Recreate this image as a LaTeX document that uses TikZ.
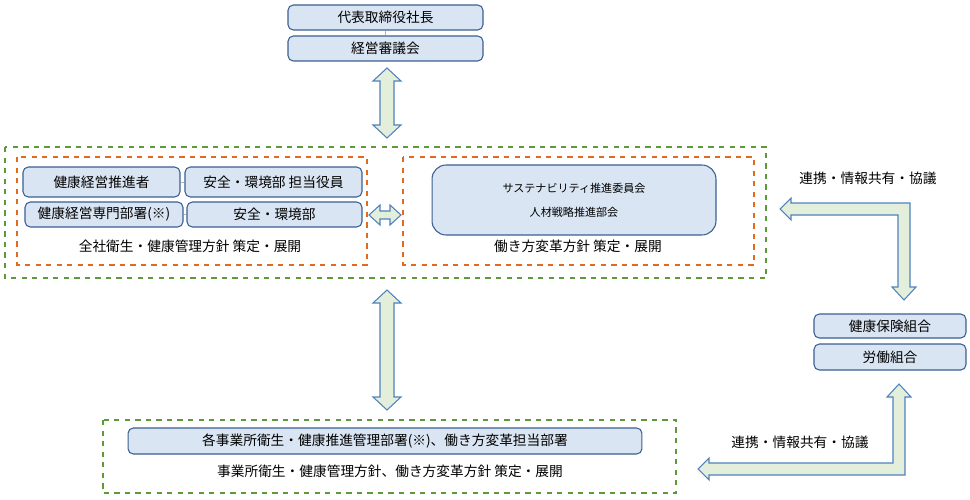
\documentclass[tikz,border=0pt]{standalone}
\usepackage{fontspec}
\setmainfont{Noto Sans CJK JP}
\definecolor{boxfill}{HTML}{DAE5F3}
\definecolor{boxline}{HTML}{3A5F8F}
\definecolor{arrfill}{HTML}{E3EFDA}
\definecolor{arrline}{HTML}{4F81BD}
\definecolor{gdash}{HTML}{5E9A3A}
\definecolor{odash}{HTML}{E06A1E}
\begin{document}
\tikzset{
  box/.style={draw=boxline,fill=boxfill,rounded corners=3pt,line width=.6pt,inner sep=0pt},
  arr/.style={draw=arrline,fill=arrfill,line width=.6pt,line join=miter},
  gframe/.style={draw=gdash,dashed,line width=.6pt},
  oframe/.style={draw=odash,dashed,line width=.6pt},
  link/.style={draw=gray!60,line width=.4pt},
  lbl/.style={font=\fontsize{7.8}{9}\selectfont}
}
\begin{tikzpicture}[x=0.02cm,y=-0.02cm,lbl]
\useasboundingbox (0,0) rectangle (970,500);
% top
\node[box,minimum width=3.9cm,minimum height=0.5cm] (ceo) at (385.5,17.5) {代表取締役社長};
\node[box,minimum width=3.9cm,minimum height=0.5cm] (mgmt) at (385.5,48.5) {経営審議会};
\draw[link] (ceo) -- (mgmt);
% vertical double arrows
\foreach \ya/\yb in {68/138,290/410}
{
  \draw[arr](387,\ya)--(401,\ya+13)--(394,\ya+13)--(394,\yb-13)--(401,\yb-13)--(387,\yb)
    --(373,\yb-13)--(380,\yb-13)--(380,\ya+13)--(373,\ya+13)--cycle;
}
% frames
\draw[gframe](5,147) rectangle (766,278);
\draw[oframe](17,157) rectangle (367,265);
\draw[oframe](403,157) rectangle (754,265);
\draw[gframe](103,420) rectangle (676,493);
% left group
\node[box,minimum width=3.14cm,minimum height=0.6cm] (promoter) at (101.5,182) {健康経営推進者};
\node[box,minimum width=3.54cm,minimum height=0.6cm] (officer) at (273.5,182) {安全・環境部 担当役員};
\node[box,minimum width=3.16cm,minimum height=0.5cm] (dept) at (104,214.5) {健康経営専門部署(※)};
\node[box,minimum width=3.5cm,minimum height=0.5cm] (env) at (274.5,214.5) {安全・環境部};
\draw[link] (promoter) -- (officer);
\draw[link] (dept) -- (env);
\node (leftlbl) at (190,246) {全社衛生・健康管理方針 策定・展開};
% right group
\node[box,rounded corners=8pt,minimum width=5.68cm,minimum height=1.4cm] (sus) at (574,200) {};
\node[font=\fontsize{6.3}{8}\selectfont] (sustxt) at (574,188) {サステナビリティ推進委員会};
\node[font=\fontsize{6.3}{8}\selectfont] (hrtxt) at (574,212) {人材戦略推進部会};
\node (rightlbl) at (578,246) {働き方変革方針 策定・展開};
% horizontal double arrow
\draw[arr](369,215)--(380,205)--(380,211)--(390,211)--(390,205)--(401,215)--(390,225)--(390,219)--(380,219)--(380,225)--cycle;
% bottom
\node[box,minimum width=10.28cm,minimum height=0.52cm] (site) at (385,441) {各事業所衛生・健康推進管理部署(※)、働き方変革担当部署};
\node (botlbl) at (390,471) {事業所衛生・健康管理方針、働き方変革方針 策定・展開};
% unions
\node[box,minimum width=3.04cm,minimum height=0.48cm] (kenpo) at (890,326) {健康保険組合};
\node[box,minimum width=3.04cm,minimum height=0.52cm] (union) at (890,357) {労働組合};
% elbow arrows
\draw[arr](780,209)--(791,198)--(791,203)--(910,203)--(910,287)--(916,287)--(904,300)--(892,287)--(898,287)--(898,215)--(791,215)--(791,220)--cycle;
\draw[arr](698,469)--(709,458)--(709,463)--(893,463)--(893,397)--(887,397)--(899,384)--(911,397)--(905,397)--(905,475)--(709,475)--(709,480)--cycle;
\node (coop1) at (868,178) {連携・情報共有・協議};
\node (coop2) at (800,442) {連携・情報共有・協議};
\end{tikzpicture}
\end{document}
